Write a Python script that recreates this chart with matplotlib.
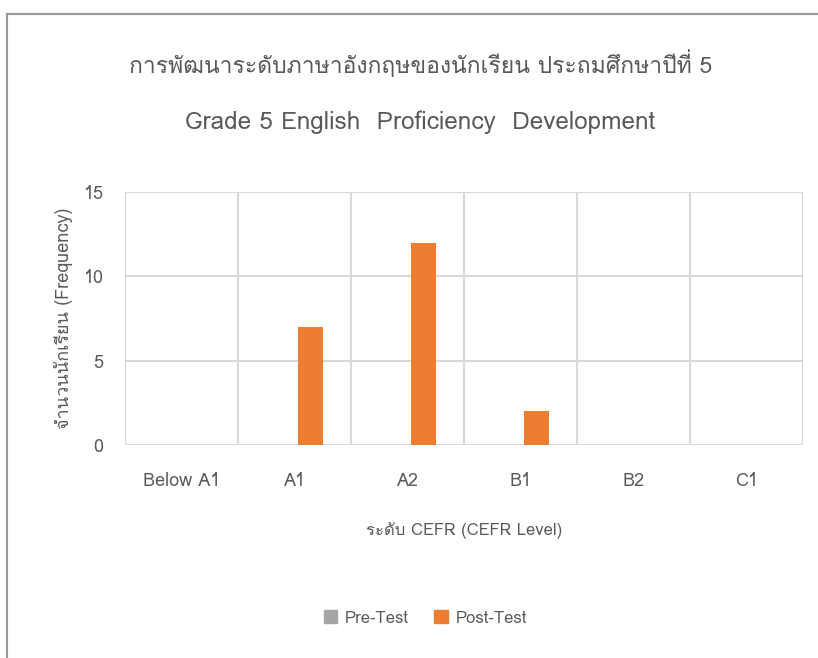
import numpy as np
import matplotlib
matplotlib.use('Agg')
import matplotlib.pyplot as plt
from matplotlib import font_manager
from matplotlib.ft2font import FT2Font
from matplotlib.patches import Patch
from matplotlib.lines import Line2D

# chart data
levels = ['Below A1', 'A1', 'A2', 'B1', 'B2', 'C1']
pre_test = [0, 0, 0, 0, 0, 0]
post_test = [0, 7, 12, 2, 0, 0]
series_names = ['Pre-Test', 'Post-Test']

title_th = 'การพัฒนาระดับภาษาอังกฤษของนักเรียน ประถมศึกษาปีที่ 5'
title_en = 'Grade 5 English  Proficiency  Development'
y_label = 'จำนวนนักเรียน (Frequency)'
x_label = 'ระดับ CEFR (CEFR Level)'


def thai_family():
    """ find an installed font that has Thai glyphs """
    for f in font_manager.fontManager.ttflist:
        try:
            if FT2Font(f.fname).get_char_index(ord('ก')):
                return f.name
        except Exception:
            pass
    return None


thai = thai_family()
families = ['DejaVu Sans']
if thai:
    families = [thai, 'DejaVu Sans']
plt.rcParams['font.family'] = families

text_grey = '#595959'
grid_grey = '#D9D9D9'

fig = plt.figure(figsize=(8.18, 6.58), dpi=100)
ax = fig.add_axes([0.1528, 0.3242, 0.8289, 0.3836])

x = np.arange(len(levels))
w = 0.22
ax.bar(x - 0.035 - w / 2, pre_test, w, color='#A5A5A5', zorder=3)
ax.bar(x + 0.035 + w / 2, post_test, w, color='#ED7D31', zorder=3)

ax.set_xlim(-0.5, len(levels) - 0.5)
ax.set_ylim(0, 15)
ax.set_yticks([0, 5, 10, 15])
ax.set_xticks(x)
ax.set_xticklabels(levels)

# gridlines: horizontal at each y tick, vertical between categories
for yv in [0, 5, 10, 15]:
    ax.axhline(yv, color=grid_grey, lw=1.5, zorder=1)
for xv in np.arange(-0.5, len(levels), 1.0):
    ax.axvline(xv, color=grid_grey, lw=1.5, zorder=1)

for s in ax.spines.values():
    s.set_visible(False)
ax.tick_params(length=0, labelsize=13, colors=text_grey, pad=20)
ax.tick_params(axis='y', pad=16)

ax.set_ylabel(y_label, fontsize=13, color=text_grey, labelpad=7)
ax.set_xlabel(x_label, fontsize=12, color=text_grey, labelpad=23)

fig.text(0.514, 0.903, title_th, ha='center', va='center', fontsize=16.5, color=text_grey)
fig.text(0.514, 0.814, title_en, ha='center', va='center', fontsize=17.5, color=text_grey)

handles = [Patch(color='#A5A5A5'), Patch(color='#ED7D31')]
fig.legend(handles, series_names, loc='center', bbox_to_anchor=(0.52, 0.06), ncol=2,
           frameon=False, fontsize=12, labelcolor=text_grey, handlelength=0.8,
           handleheight=0.8, handletextpad=0.5, columnspacing=1.5)

# outer chart frame (top and left edges only)
fig.add_artist(Line2D([0.0085, 0.0085], [0, 1 - 14.3 / 658], color='#999999', lw=1.5,
                      transform=fig.transFigure))
fig.add_artist(Line2D([0.0085, 1], [1 - 14.3 / 658, 1 - 14.3 / 658], color='#999999', lw=1.5,
                      transform=fig.transFigure))

fig.savefig('out.png', dpi=100)
